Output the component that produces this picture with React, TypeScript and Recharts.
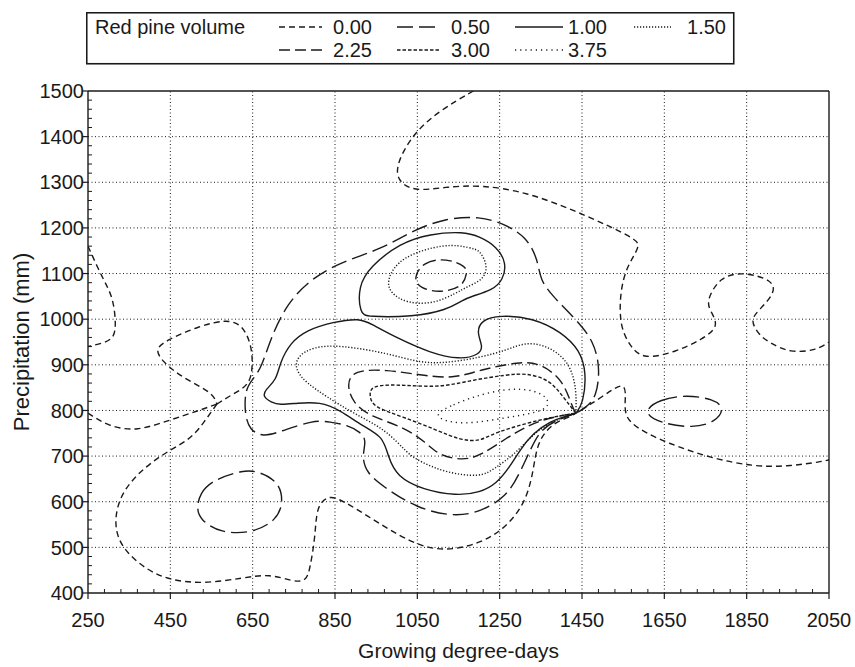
import React from 'react';
import { LineChart, Line, XAxis, YAxis, ReferenceLine, Legend } from 'recharts';

type Pt = [number, number];

// axis ticks
const xMajor = [250, 450, 650, 850, 1050, 1250, 1450, 1650, 1850, 2050];
const yMajor = [400, 500, 600, 700, 800, 900, 1000, 1100, 1200, 1300, 1400, 1500];
const xAll = Array.from({ length: 46 }, (_, i) => 250 + i * 40);
const yAll = Array.from({ length: 56 }, (_, i) => 400 + i * 20);

const levels = ['0.00', '0.50', '1.00', '1.50', '2.25', '3.00', '3.75'];

// contour traces (GDD, mm)
const v000LeftTop: Pt[] = [[250, 1160], [285, 1090], [311, 1049], [318, 990], [314, 960], [290, 948], [250, 940]];
const v000Blob: Pt[] = [[563, 814], [600, 835], [643, 856], [650, 896], [648, 940], [627, 987], [587, 1000], [520, 985], [441, 954], [408, 932], [445, 895], [490, 867], [554, 838], [563, 814], [563, 814]];
const v000LeftArm: Pt[] = [[250, 794], [300, 765], [368, 754], [449, 779], [520, 800], [563, 814]];
const v000Lower: Pt[] = [
  [563, 814], [530, 772], [498, 735], [417, 699], [328, 626], [311, 545], [336, 494], [393, 450], [449, 428],
  [530, 420], [627, 433], [692, 442], [748, 425], [781, 425], [790, 458], [802, 523], [805, 589], [830, 611],
  [854, 610], [919, 575], [1040, 505], [1121, 491], [1202, 509], [1258, 538], [1307, 589], [1328, 648],
  [1336, 699], [1348, 740], [1380, 772], [1413, 783], [1435, 794], [1435, 794], [1435, 794], [1500, 830],
  [1550, 863], [1558, 838], [1550, 786], [1591, 757], [1656, 729], [1761, 696], [1866, 677], [1947, 677],
  [2035, 688], [2050, 692],
];
const v000Upper: Pt[] = [
  [1186, 1500], [1105, 1458], [1040, 1407], [1000, 1342], [1000, 1305], [1040, 1279], [1121, 1290],
  [1202, 1294], [1315, 1279], [1437, 1236], [1518, 1203], [1583, 1174], [1591, 1159], [1558, 1115],
  [1542, 1057], [1542, 984], [1567, 940], [1599, 911], [1680, 929], [1740, 955], [1785, 984], [1760, 1020],
  [1753, 1042], [1785, 1093], [1841, 1104], [1914, 1086], [1919, 1057], [1880, 1020], [1858, 998],
  [1880, 965], [1907, 948], [1955, 926], [2020, 932], [2050, 950],
];

const v050Main: Pt[] = [
  [1435, 794], [1435, 794], [1435, 794], [1389, 779], [1348, 757], [1324, 713], [1299, 663], [1267, 611],
  [1202, 577], [1137, 567], [1048, 586], [967, 633], [927, 663], [915, 699], [927, 735], [911, 753],
  [880, 768], [838, 775], [797, 779], [716, 753], [675, 742], [643, 757], [631, 790], [631, 845], [650, 868],
  [672, 895], [692, 954], [733, 1035], [797, 1093], [878, 1130], [959, 1152], [1040, 1195], [1121, 1222],
  [1202, 1225], [1258, 1210], [1315, 1181], [1343, 1130], [1348, 1086], [1380, 1049], [1437, 998],
  [1477, 954], [1494, 896], [1486, 830], [1458, 805],
];
const v050RingLeft: Pt[] = [[514, 586], [522, 619], [554, 648], [627, 670], [668, 666], [716, 641], [724, 597], [708, 560], [651, 531], [571, 531], [522, 561]];
const v050RingRight: Pt[] = [[1595, 797], [1640, 825], [1704, 834], [1770, 825], [1797, 805], [1775, 775], [1720, 761], [1639, 772]];

const v100Upper: Pt[] = [
  [911, 1013], [906, 1071], [935, 1115], [1008, 1167], [1081, 1187], [1161, 1192], [1202, 1181],
  [1243, 1159], [1267, 1123], [1258, 1086], [1234, 1064], [1178, 1049], [1161, 1042], [1121, 1020],
  [1040, 1005], [927, 1005],
];
const v100Lower: Pt[] = [
  [1435, 794], [1435, 794], [1435, 794], [1453, 815], [1461, 882], [1445, 932], [1400, 972], [1331, 1003],
  [1250, 1009], [1205, 998], [1194, 970], [1210, 940], [1200, 922], [1154, 911], [1081, 926], [1000, 959],
  [935, 991], [911, 1002], [845, 994], [781, 976], [741, 948], [716, 904], [708, 867], [680, 845],
  [675, 830], [695, 818], [716, 812], [757, 816], [814, 819], [862, 801], [918, 765], [967, 743],
  [979, 699], [1000, 655], [1064, 626], [1145, 613], [1202, 620], [1243, 640], [1275, 677], [1299, 713],
  [1331, 750], [1372, 776], [1415, 789],
];

const v150Upper: Pt[] = [
  [975, 1086], [1008, 1137], [1121, 1167], [1178, 1156], [1202, 1152], [1222, 1115], [1210, 1086],
  [1170, 1071], [1145, 1057], [1088, 1033], [1024, 1035], [984, 1057],
];
const v150Lower: Pt[] = [
  [1435, 794], [1435, 794], [1435, 794], [1437, 845], [1421, 904], [1372, 940], [1315, 951], [1267, 932],
  [1202, 916], [1121, 904], [1056, 904], [976, 926], [862, 943], [797, 940], [757, 918], [753, 889],
  [781, 860], [830, 830], [894, 794], [976, 757], [1024, 707], [1056, 688], [1121, 663], [1202, 654],
  [1234, 670], [1291, 707], [1340, 757], [1397, 783],
];

const v225Upper: Pt[] = [[1040, 1090], [1064, 1126], [1121, 1134], [1170, 1115], [1170, 1100], [1161, 1071], [1105, 1057], [1056, 1068]];
const v225Lower: Pt[] = [
  [1435, 794], [1435, 794], [1435, 794], [1425, 810], [1404, 867], [1348, 904], [1299, 907], [1202, 889],
  [1137, 869], [1056, 878], [976, 889], [894, 889], [878, 856], [894, 816], [935, 787], [1015, 765],
  [1072, 729], [1105, 700], [1161, 691], [1202, 700], [1267, 740], [1315, 765], [1364, 783],
];

const v300Lower: Pt[] = [
  [1435, 794], [1435, 794], [1435, 794], [1404, 830], [1372, 867], [1315, 882], [1267, 878], [1185, 867],
  [1105, 850], [1015, 856], [951, 856], [935, 845], [935, 830], [942, 808], [1015, 786], [1097, 757],
  [1154, 735], [1202, 732], [1234, 750], [1315, 772], [1380, 786],
];

const v375Core: Pt[] = [[1095, 795], [1137, 812], [1185, 830], [1267, 849], [1339, 845], [1372, 823], [1364, 801], [1307, 790], [1226, 778], [1160, 770], [1105, 779]];

const contours: { level: string; pts: Pt[]; closed: boolean }[] = [
  { level: '0.00', pts: v000LeftTop, closed: false },
  { level: '0.00', pts: v000Blob, closed: false },
  { level: '0.00', pts: v000LeftArm, closed: false },
  { level: '0.00', pts: v000Lower, closed: false },
  { level: '0.00', pts: v000Upper, closed: false },
  { level: '0.50', pts: v050Main, closed: true },
  { level: '0.50', pts: v050RingLeft, closed: true },
  { level: '0.50', pts: v050RingRight, closed: true },
  { level: '1.00', pts: v100Upper, closed: true },
  { level: '1.00', pts: v100Lower, closed: true },
  { level: '1.50', pts: v150Upper, closed: true },
  { level: '1.50', pts: v150Lower, closed: true },
  { level: '2.25', pts: v225Upper, closed: true },
  { level: '2.25', pts: v225Lower, closed: true },
  { level: '3.00', pts: v300Lower, closed: true },
  { level: '3.75', pts: v375Core, closed: true },
];

const dashFor: Record<string, string | undefined> = {
  '0.00': '6 4',
  '0.50': '16 6',
  '1.00': undefined,
  '1.50': '1.2 1.8',
  '2.25': '11 5',
  '3.00': '3.5 2',
  '3.75': '1.2 4',
};

const INK = '#1a1a1a';
const FONT = '"Liberation Sans", Arial, Helvetica, sans-serif';

const XTick = (props: any) => {
  const { x, y, payload } = props;
  const v = payload.value;
  if (!xMajor.includes(v)) {
    return <line x1={x} x2={x} y1={y} y2={y - 4} stroke={INK} strokeWidth={1} />;
  }
  return (
    <g>
      <line x1={x} x2={x} y1={y} y2={y + 6} stroke={INK} strokeWidth={1.2} />
      <text x={x} y={y + 34} textAnchor="middle" fontSize={20} fill={INK} fontFamily={FONT}>{v}</text>
    </g>
  );
};

const YTick = (props: any) => {
  const { x, y, payload } = props;
  const v = payload.value;
  if (!yMajor.includes(v)) {
    return <line x1={x} x2={x + 4} y1={y} y2={y} stroke={INK} strokeWidth={1} />;
  }
  return (
    <g>
      <line x1={x - 6} x2={x} y1={y} y2={y} stroke={INK} strokeWidth={1.2} />
      <text x={x - 4} y={y} dy="0.36em" textAnchor="end" fontSize={20} fill={INK} fontFamily={FONT}>{v}</text>
    </g>
  );
};

// legend slots: [row, col]
const legendSlots: Record<string, [number, number]> = {
  '0.00': [0, 0], '0.50': [0, 1], '1.00': [0, 2], '1.50': [0, 3],
  '2.25': [1, 0], '3.00': [1, 1], '3.75': [1, 2],
};
const colLine = [[193, 236], [311, 354], [429, 477], [548, 585]];
const colText = [286, 404, 521, 640];
const rowY = [15, 38];

const ContourLegend = () => (
  <svg width={650} height={54} style={{ display: 'block' }}>
    <rect x={0.75} y={0.75} width={647} height={51} fill="#fff" stroke={INK} strokeWidth={1.6} />
    <text x={9} y={rowY[0] + 7} fontSize={20} fill={INK} fontFamily={FONT}>Red pine volume</text>
    {levels.map((lv) => {
      const [r, c] = legendSlots[lv];
      return (
        <g key={lv}>
          <line x1={colLine[c][0]} x2={colLine[c][1]} y1={rowY[r]} y2={rowY[r]} stroke={INK} strokeWidth={1.4} strokeDasharray={dashFor[lv]} />
          <text x={colText[c]} y={rowY[r] + 7} textAnchor="end" fontSize={20} fill={INK} fontFamily={FONT}>{lv}</text>
        </g>
      );
    })}
  </svg>
);

export default function App() {
  return (
    <div style={{ position: 'absolute', left: 0, top: 0, width: 855, height: 667, background: '#fff', fontFamily: FONT }}>
      <LineChart width={855} height={667} margin={{ top: 91, right: 26, bottom: 0, left: 0 }}>
        <XAxis
          type="number"
          dataKey="x"
          domain={[250, 2050]}
          ticks={xAll}
          interval={0}
          allowDataOverflow
          height={74}
          tickSize={0}
          tickMargin={0}
          tickLine={false}
          tick={<XTick />}
          axisLine={{ stroke: INK, strokeWidth: 1.4 }}
          label={{ value: 'Growing degree-days', position: 'insideBottom', offset: 9, fontSize: 21, fill: INK, fontFamily: FONT }}
        />
        <YAxis
          type="number"
          dataKey="y"
          domain={[400, 1500]}
          ticks={yAll}
          interval={0}
          allowDataOverflow
          width={88}
          tickSize={0}
          tickMargin={0}
          tickLine={false}
          tick={<YTick />}
          axisLine={{ stroke: INK, strokeWidth: 1.4 }}
          label={{ value: 'Precipitation (mm)', angle: -90, position: 'insideLeft', offset: 21, fontSize: 22, fill: INK, fontFamily: FONT, style: { textAnchor: 'middle' } }}
        />
        {xMajor.slice(1, -1).map((v) => (
          <ReferenceLine key={'gx' + v} x={v} stroke={INK} strokeWidth={1} strokeDasharray="1 2.5" />
        ))}
        {yMajor.slice(1, -1).map((v) => (
          <ReferenceLine key={'gy' + v} y={v} stroke={INK} strokeWidth={1} strokeDasharray="1 2.5" />
        ))}
        <ReferenceLine y={1500} stroke={INK} strokeWidth={1.4} />
        <ReferenceLine x={2050} stroke={INK} strokeWidth={1.4} />
        {contours.map((c, i) => (
          <Line
            key={'c' + i}
            data={c.pts.map(([x, y]) => ({ x, y }))}
            dataKey="y"
            type={c.closed ? 'basisClosed' : 'basis'}
            stroke={INK}
            strokeWidth={1.4}
            strokeDasharray={dashFor[c.level]}
            dot={false}
            activeDot={false}
            legendType="none"
            isAnimationActive={false}
          />
        ))}
        <Legend
          layout="vertical"
          align="center"
          verticalAlign="middle"
          wrapperStyle={{ top: 12, left: 86, width: 650, height: 54 }}
          content={() => <ContourLegend />}
        />
      </LineChart>
    </div>
  );
}
